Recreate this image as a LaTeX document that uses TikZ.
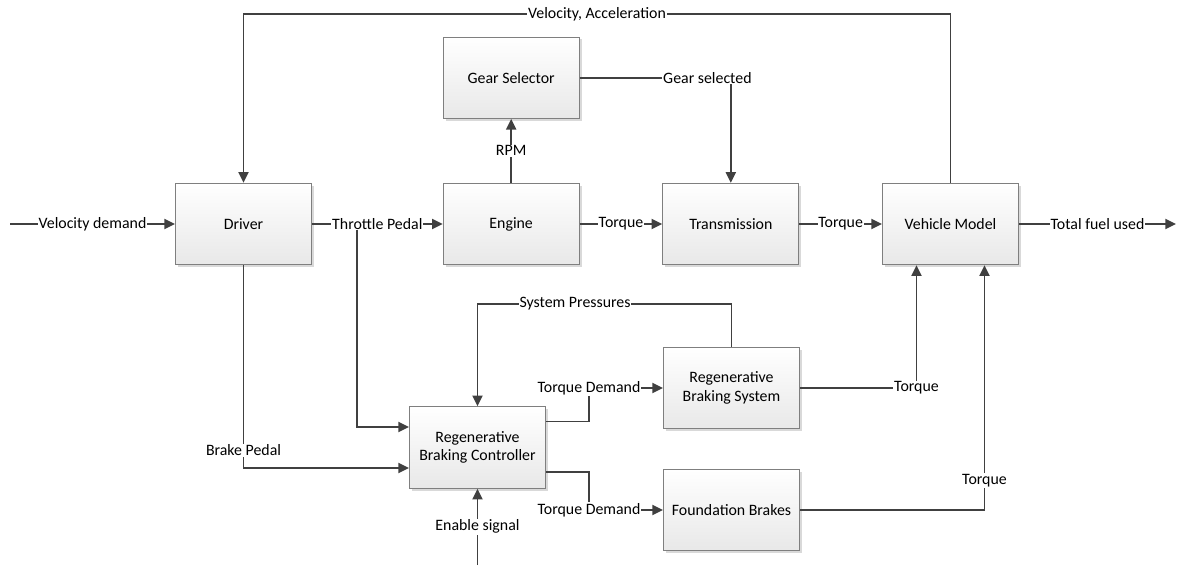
\documentclass[tikz,border=0pt]{standalone}
\usepackage{fontspec}
\setmainfont{Carlito}
\usetikzlibrary{shadows}
\usetikzlibrary{arrows.meta}
\usetikzlibrary{calc,positioning}

\definecolor{linegray}{HTML}{404040}
\definecolor{boxline}{HTML}{7F7F7F}

\tikzset{
  box/.style={draw=boxline, line width=0.75pt, top color=white, bottom color=black!9,
    minimum width=102pt, minimum height=61pt, align=center,
    drop shadow={shadow xshift=1.8pt, shadow yshift=-1.8pt, fill=black!25, opacity=0.6}},
  link/.style={draw=linegray, line width=1.4pt, arrows={-Triangle[length=8pt,width=7.5pt]}},
  lbl/.style={fill=white, inner sep=0.6pt, text=black}
}

\begin{document}
\begin{tikzpicture}[x=0.75pt, y=-0.75pt, font=\fontsize{11.9pt}{14pt}\selectfont]
\useasboundingbox (0,0) rectangle (1181,565);

% blocks
\node [box] (driver) at (243.5,224) {Driver};
\node [box] (engine) [right=98pt of driver] {Engine};
\node [box] (trans) [right=62pt of engine] {Transmission};
\node [box] (vehicle) [right=62pt of trans] {Vehicle Model};
\node [box] (gear) [above=48pt of engine] {Gear Selector};
\node [box] (rbs) at (731.5,388) {Regenerative\\Braking System};
\node [box] (rbc) at (477.5,447.5) {Regenerative\\Braking Controller};
\node [box] (fb) at (731.5,510) {Foundation Brakes};

\coordinate (src) at (10,224);
\coordinate (sink) at (1176,224);
\coordinate (fbtop) at (0,14);
\coordinate (sptop) at (0,304);
\coordinate (en) at (477.5,565);
\coordinate (vm1) at ($(vehicle.south)+(-34,0)$);
\coordinate (vm2) at ($(vehicle.south)+(34,0)$);

% signals
\draw [link] (driver.east) -- ++(45,0) |- ($(rbc.west)+(0,-20.5)$);
\draw [link] (src) -- node[lbl]{Velocity demand} (driver);
\draw [link] (driver) -- node[lbl]{Throttle Pedal} (engine);
\draw [link] (engine) -- node[lbl]{Torque} (trans);
\draw [link] (trans) -- node[lbl]{Torque} (vehicle);
\draw [link] (vehicle) -- node[lbl]{Total fuel used} (sink);
\draw [link] (engine) -- node[lbl]{RPM} (gear);
\draw [link] (gear) -- node[lbl,pos=0.845]{Gear selected} (gear -| trans) -- (trans);
\draw [link] (vehicle.north) -- (vehicle.north |- fbtop)
  -- node[lbl]{Velocity, Acceleration} (driver.north |- fbtop) -- (driver.north);
\draw [link] (driver) |- node[lbl,pos=0.456]{Brake Pedal} ($(rbc.west)+(0,20.5)$);
\draw [link] (rbs.north) -- (rbs.north |- sptop)
  -- node[lbl,pos=0.616]{System Pressures} (rbc.north |- sptop) -- (rbc.north);
\draw [link] ($(rbc.east)+(0,-26)$) -- ++(43,0) |- node[lbl,pos=0.5]{Torque Demand} (rbs);
\draw [link] ($(rbc.east)+(0,24.5)$) -- ++(43,0) |- node[lbl,pos=0.5]{Torque Demand} (fb);
\draw [link] (rbs) -| node[lbl,pos=0.5]{Torque} (vm1);
\draw [link] (fb) -| node[lbl,pos=0.56]{Torque} (vm2);
\draw [link] (en) -- node[lbl]{Enable signal} (rbc);
\end{tikzpicture}
\end{document}
